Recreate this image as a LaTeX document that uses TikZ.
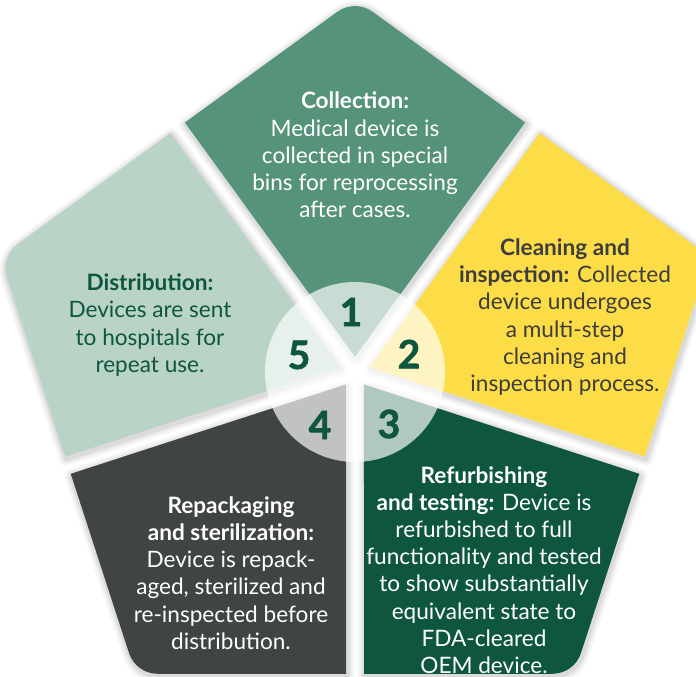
\documentclass[tikz,border=0pt]{standalone}
\usepackage{fontspec}
\setmainfont{Lato}
\newfontfamily\numfont{Lato}[BoldFeatures={FakeBold=1.6}]
\usetikzlibrary{calc}
\definecolor{collectgreen}{HTML}{55937A}
\definecolor{cleanyellow}{HTML}{FDDD47}
\definecolor{refurbgreen}{HTML}{0E573E}
\definecolor{repackgray}{HTML}{404443}
\definecolor{distgreen}{HTML}{B9D3C7}
\definecolor{darktext}{HTML}{3D3D3D}
\begin{document}
\begin{tikzpicture}[x=1pt,y=-1pt,
  halo/.style={draw=black,line join=round,line width=#1},
  txt/.style={align=center,inner sep=0pt,font=\fontsize{22.6}{27.2}\selectfont},
  num/.style={inner sep=0pt,text=refurbgreen,font=\fontsize{39}{39}\selectfont\numfont\bfseries}]
\useasboundingbox (0,0) rectangle (696,677);
\clip (0,0) rectangle (696,677);
\coordinate (C) at (355,372);
% five kite-shaped pieces of a rounded pentagon, separated by 18pt gaps
\foreach \a/\n in {-126/p1,-54/p2,18/p3,90/p4,162/p5}{
  \coordinate (\n V) at ($(C)+(\a+36:373)$);
  \coordinate (\n A) at ($(C)+(\a:301.8)+(\a+90:9)$);
  \coordinate (\n B) at ($(C)+(\a+72:301.8)+(\a-18:9)$);
  \coordinate (\n Q) at ($(C)+(\a+36:15.3)$);
  \coordinate (\n T1) at ($(\n V)!21.8pt!(\n A)$);
  \coordinate (\n T2) at ($(\n V)!21.8pt!(\n B)$);
  \coordinate (\n K1) at ($(\n T1)!0.596!(\n V)$);
  \coordinate (\n K2) at ($(\n T2)!0.596!(\n V)$);
}
% soft shadows around the pieces
\foreach \n in {p1,p2,p3,p4,p5}{
  \foreach \w/\o in {14/0.04,9/0.05,5/0.06}{
    \path[halo=\w,draw opacity=\o] ([shift={(1,2)}]\n Q) -- ([shift={(1,2)}]\n A) -- ([shift={(1,2)}]\n T1)
      .. controls ([shift={(1,2)}]\n K1) and ([shift={(1,2)}]\n K2) .. ([shift={(1,2)}]\n T2)
      -- ([shift={(1,2)}]\n B) -- cycle;
  }
}
% the pieces
\foreach \n/\c in {p1/collectgreen,p2/cleanyellow,p3/refurbgreen,p4/repackgray,p5/distgreen}{
  \fill[\c] (\n Q) -- (\n A) -- (\n T1) .. controls (\n K1) and (\n K2) .. (\n T2) -- (\n B) -- cycle;
}
% translucent hub
\fill[white,opacity=0.68] (C) circle[radius=90];
% step numbers
\node[num] (n1) at (351,312) {1};
\node[num] (n2) at (409,354) {2};
\node[num] (n3) at (389,424) {3};
\node[num] (n4) at (320,425) {4};
\node[num] (n5) at (299,355) {5};
% step descriptions
\node[txt,text=white] (t1) at (355,155)
  {\textbf{Collection:}\\Medical device is\\collected in special\\bins for reprocessing\\after cases.};
\node[txt,text=darktext] (t2) at (565,317)
  {\textbf{Cleaning and}\\\textbf{inspection:} Collected\\device undergoes\\a multi-step\\cleaning and\\inspection process.};
\node[txt,text=white] (t3) at (484,570)
  {\textbf{Refurbishing}\\\textbf{and testing:} Device is\\refurbished to full\\functionality and tested\\to show substantially\\equivalent state to\\FDA-cleared\\OEM device.};
\node[txt,text=white] (t4) at (231,573)
  {\textbf{Repackaging}\\\textbf{and sterilization:}\\Device is repack-\\aged, sterilized and\\re-inspected before\\distribution.};
\node[txt,text=refurbgreen] (t5) at (150,325)
  {\textbf{Distribution:}\\Devices are sent\\to hospitals for\\repeat use.};
\end{tikzpicture}
\end{document}
